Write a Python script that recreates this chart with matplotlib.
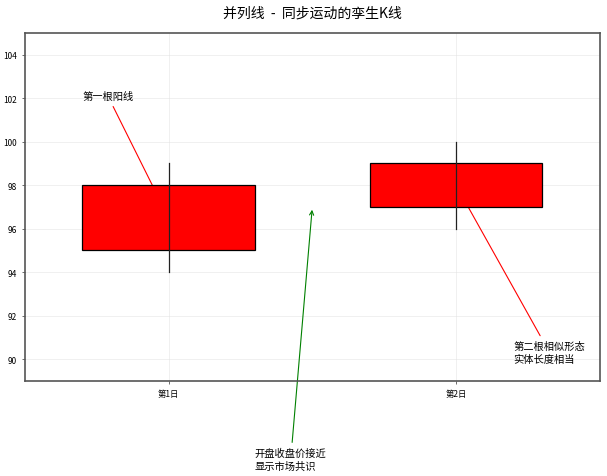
import matplotlib
matplotlib.use("Agg")
import matplotlib.pyplot as plt
from matplotlib.patches import Rectangle

plt.rcParams['font.family'] = ['Noto Sans CJK SC', 'DejaVu Sans']
plt.rcParams['axes.unicode_minus'] = False

# 数据
days = [1, 2]
day_labels = ['第1日', '第2日']
opens = [95, 97]
closes = [98, 99]
highs = [99, 100]
lows = [94, 96]

fig = plt.figure(figsize=(6.07, 4.77), dpi=100)
ax = fig.add_axes([0.041, 0.199, 0.947, 0.730])

width = 0.6
for x, o, c, h, l in zip(days, opens, closes, highs, lows):
    rect = Rectangle((x - width / 2, min(o, c)), width, abs(c - o),
                     facecolor='red', edgecolor='black', linewidth=0.9, zorder=4)
    ax.add_patch(rect)
    ax.plot([x, x], [l, h], color='#222222', linewidth=0.9, zorder=5)

ax.set_xlim(0.5, 2.5)
ax.set_ylim(89, 105)
ax.set_xticks(days)
ax.set_xticklabels(day_labels)
ax.set_yticks([90, 92, 94, 96, 98, 100, 102, 104])
ax.tick_params(labelsize=6, length=2, width=0.6, color='#555555')
ax.grid(True, color='#e2e2e2', linewidth=0.6, alpha=0.6)
ax.set_axisbelow(True)
for s in ax.spines.values():
    s.set_color('#555555')
    s.set_linewidth(1.2)

ax.set_title('并列线  -  同步运动的孪生K线', fontsize=10, pad=12)

ax.annotate('第一根阳线', xy=(1, 96.5), xytext=(0.7, 101.95), fontsize=7.4,
            arrowprops=dict(arrowstyle='->', color='red', lw=0.8), zorder=2)
ax.annotate('第二根相似形态\n实体长度相当', xy=(2, 98), xytext=(2.2, 89.9), fontsize=7.4,
            linespacing=1.3,
            arrowprops=dict(arrowstyle='->', color='red', lw=0.8), zorder=2)
ax.annotate('开盘收盘价接近\n显示市场共识', xy=(1.5, 97), xytext=(1.3, 84.97), fontsize=7.4,
            linespacing=1.3,
            arrowprops=dict(arrowstyle='->', color='green', lw=0.8), zorder=2)

fig.savefig('out.png', dpi=100)
